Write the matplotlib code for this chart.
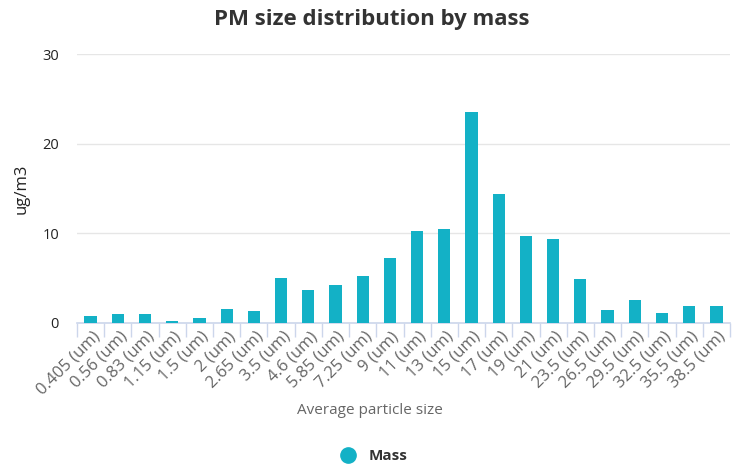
import matplotlib
matplotlib.use("Agg")
import matplotlib.pyplot as plt
from matplotlib.lines import Line2D
from matplotlib.transforms import ScaledTranslation

categories = ["0.405 (um)", "0.56 (um)", "0.83 (um)", "1.15 (um)", "1.5 (um)", "2 (um)",
              "2.65 (um)", "3.5 (um)", "4.6 (um)", "5.85 (um)", "7.25 (um)", "9 (um)",
              "11 (um)", "13 (um)", "15 (um)", "17 (um)", "19 (um)", "21 (um)",
              "23.5 (um)", "26.5 (um)", "29.5 (um)", "32.5 (um)", "35.5 (um)", "38.5 (um)"]
mass = [0.8, 0.95, 0.95, 0.27, 0.52, 1.6, 1.34, 5.06, 3.7, 4.24, 5.2, 7.3,
        10.26, 10.45, 23.5, 14.4, 9.75, 9.33, 4.9, 1.5, 2.57, 1.08, 1.9, 1.9]
yticks = [0, 10, 20, 30]

plt.rcParams['font.family'] = ['Open Sans', 'DejaVu Sans']
color = '#13b1c6'

fig = plt.figure(figsize=(7.4, 4.7), dpi=100)
ax = fig.add_axes([77/740, 1-323/470, 653/740, (323-54)/470])
x = list(range(len(categories)))
ax.bar(x, mass, width=0.45, color=color, zorder=3)
ax.set_xlim(-0.5, len(categories)-0.5)
ax.set_ylim(0, 30)
ax.set_yticks(yticks)
ax.set_yticklabels([str(v) for v in yticks], fontsize=10.5, color='#222222')
ax.yaxis.grid(True, color='#e6e6e6', linewidth=1, zorder=0)
ax.tick_params(axis='y', length=0, pad=13)
for s in ['top', 'right', 'left']:
    ax.spines[s].set_visible(False)
ax.spines['bottom'].set_color('#ccd6eb')
ax.spines['bottom'].set_linewidth(1.2)

ax.set_xticks([i - 0.5 for i in range(len(categories)+1)], minor=False)
ax.set_xticklabels([])
ax.tick_params(axis='x', which='major', length=10, color='#ccd6eb', width=1)
ax.set_xticks(x, minor=True)
ax.set_xticklabels(categories, minor=True, rotation=45, ha='right',
                   rotation_mode='anchor', fontsize=12, color='#666666')
ax.tick_params(axis='x', which='minor', length=0, pad=4)
offset = ScaledTranslation(1/100, 0, fig.dpi_scale_trans)
for lbl in ax.get_xticklabels(minor=True):
    lbl.set_transform(lbl.get_transform() + offset)

ax.set_ylabel('ug/m3', fontsize=12, color='#222222')
ax.yaxis.set_label_coords((30-77)/653, 0.5)
fig.text(370/740, 1-411/470, 'Average particle size', ha='center', va='center',
         fontsize=11, color='#666666')
fig.text(372/740, 1-19/470, 'PM size distribution by mass', ha='center', va='center',
         fontsize=16, fontweight='bold', color='#333333')

handle = Line2D([], [], marker='o', linestyle='none', markersize=11,
                markerfacecolor=color, markeredgecolor=color)
fig.legend([handle], ['Mass'], loc='center', bbox_to_anchor=(370/740, 1-456/470),
           frameon=False, prop={'weight': 'bold', 'size': 11}, handletextpad=0.3,
           labelcolor='#333333')

fig.savefig('out.png', dpi=100)
